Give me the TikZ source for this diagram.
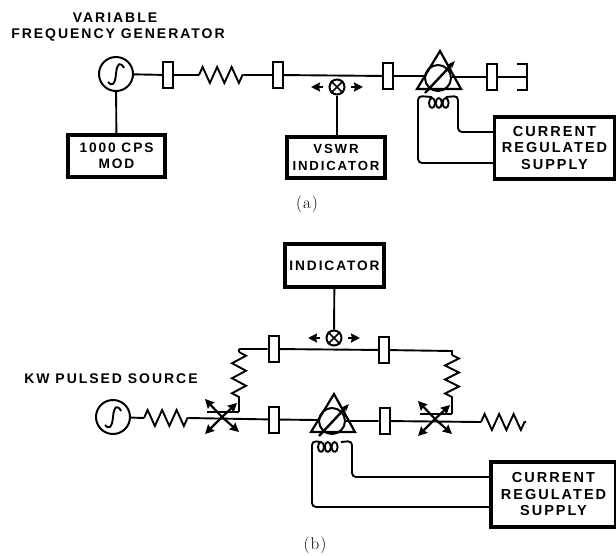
\documentclass[tikz,border=0pt]{standalone}
\usepackage{fontspec}
\usetikzlibrary{arrows.meta,decorations.pathmorphing,calc}
\newfontfamily\lab[LetterSpace=14]{Liberation Sans}
\tikzset{
 wire/.style={line width=1.9pt,line join=miter},
 box/.style={draw,line width=3.4pt,rectangle,inner sep=0pt,align=center,font=\lab\bfseries\fontsize{14.5}{16.5}\selectfont},
 smallbox/.style={box,font=\lab\bfseries\fontsize{13.7}{16.5}\selectfont},
 flange/.style={draw,line width=2pt,rectangle,inner sep=0pt,minimum width=10pt,minimum height=26pt,fill=white},
 gen/.style={draw,line width=2pt,circle,inner sep=0pt,minimum size=34pt,fill=white},
 det/.style={draw,line width=2pt,circle,inner sep=0pt,minimum size=15pt,fill=white},
 res/.style={wire,decorate,decoration={zigzag,segment length=14.5pt,amplitude=8pt}},
 tag/.style={inner sep=0pt,align=center,font=\lab\bfseries\fontsize{14}{17}\selectfont},
 captext/.style={inner sep=0pt,font=\fontsize{17}{17}\selectfont},
 tip/.style={line width=2.2pt,-{Stealth[length=9pt,width=9pt,inset=1pt]}}
}
\newcommand{\sinewave}[1]{\draw[wire] ([shift={(-8,8)}]#1.center) .. controls ([shift={(-5,12)}]#1.center) and ([shift={(-1,12)}]#1.center) .. (#1.center) .. controls ([shift={(1,-12)}]#1.center) and ([shift={(5,-12)}]#1.center) .. ([shift={(8,-6)}]#1.center);}
\newcommand{\crossin}[1]{\draw[line width=1.7pt] (#1.45)--(#1.225) (#1.135)--(#1.-45);}
% #1 name, #2 x, #3 y : isolator triangle with circle and slanted arrow
\newcommand{\isolator}[3]{%
 \coordinate (#1c) at (#2,#3);
 \coordinate (#1a) at ($(#1c)+(2,-27)$);
 \coordinate (#1l) at ($(#1c)+(-21,11)$);
 \coordinate (#1r) at ($(#1c)+(23,11)$);
 \coordinate (#1s) at ($(#1c)+(-13,15)$);
 \coordinate (#1e) at ($(#1c)+(17,-17)$);
 \draw[line width=2.2pt] (#1a)--(#1l)--(#1r)--cycle;
 \node[det,minimum size=26pt,fill=none] (#1o) at (#1c) {};
 \draw[line width=2.4pt,-{Stealth[length=8pt,width=6pt]}] (#1s)--(#1e);
}
% #1 x, #2 y : coil of three turns
\newcommand{\coil}[2]{%
 \foreach \i in {0,1,2}{\draw[line width=1.9pt] (#1+\i*6.8,#2) arc[start angle=270,delta angle=360,x radius=3pt,y radius=5pt];}
}
% #1 name, #2 x, #3 y: cross guide coupler
\newcommand{\coupler}[3]{%
 \coordinate (#1) at (#2,#3);
 \draw[tip] (#1)--++(-17,-18);
 \draw[tip] (#1)--++(-17,17);
 \draw[tip] (#1)--++(17,15);
 \draw[tip] (#1)--++(15,-14);
 \draw[wire] ($(#1)+(-15,-5)$)--++(32,0);
}
\begin{document}
\begin{tikzpicture}[x=1pt,y=-1pt]
\useasboundingbox (0,0) rectangle (616,555);
% ---------- (a)
\node[tag] (t1) at (115,18) {VARIABLE};
\node[tag] (t2) at (118,35) {FREQUENCY GENERATOR};
\node[gen] (ga) at (116,74) {};
\sinewave{ga}
\node[flange] (fa1) at (168,75) {};
\coordinate (ra1) at (199,75);
\coordinate (ra2) at (243.5,75);
\node[flange] (fa2) at (278,75) {};
\node[flange] (fa3) at (388,76) {};
\node[flange] (fa4) at (492,77) {};
\coordinate (sa) at (527,77);
\coordinate (ea1) at (424,76);
\coordinate (ea2) at (452,77);
\isolator{ia}{438}{78}
\draw[wire] (ga)--(fa1) (fa1)--(ra1) (ra2)--(fa2) (fa2)--(fa3) (fa3)--(ea1) (ea2)--(fa4) (fa4)--(sa);
\draw[res] (ra1)--(ra2);
\draw[wire] ($(sa)+(-10,-13)$)-|($(sa)+(0,13)$)--++(-10,0);
\node[smallbox,minimum width=97pt,minimum height=42pt] (ma) at (116.5,156) {1000 CPS\\MOD};
\draw[wire] (ga)--(ma);
\node[det] (da) at (337,87) {};
\crossin{da}
\draw[tip] (da)++(-14,0)--++(-12,0);
\draw[tip] (da)++(14,0)--++(12,0);
\node[smallbox,font=\lab\bfseries\fontsize{13.2}{16.5}\selectfont,minimum width=98pt,minimum height=41pt] (va) at (336,157.5) {VSWR\\INDICATOR};
\draw[wire] (da)--(va.north-|da);
\node[box,minimum width=120pt,minimum height=62pt] (sua) at (554.5,148) {CURRENT\\REGULATED\\SUPPLY};
\coil{432}{108}
\draw[wire,rounded corners=4pt] (432,97)--(418,96)--(418,163)--(sua.west|-418,163);
\draw[wire,rounded corners=4pt] (446,97)--(458,96)--(458,132)--(sua.west|-458,132);
\node[captext] (capa) at (307,204) {(\kern1pt a\kern1pt)};
% ---------- (b)
\node[smallbox,minimum width=99pt,minimum height=43pt] (ib) at (334.5,265.5) {INDICATOR};
\node[det] (db) at (334,338) {};
\crossin{db}
\draw[wire] (ib)--(db);
\draw[tip] (db)++(-14,0)--++(-12,0);
\draw[tip] (db)++(14,0)--++(12,0);
\node[flange] (fb1) at (273.5,349) {};
\node[flange] (fb2) at (384,350) {};
\coordinate (tl) at (239,349);
\coordinate (tr) at (452,351);
\coordinate (rl) at (239,398);
\coordinate (rr) at (452,398);
\draw[wire] (tl)--(fb1)--(fb2)--(tr)--++(0,4);
\draw[wire] (tl)--++(0,3);
\draw[res,decoration={segment length=15pt,amplitude=7pt}] (239,352)--(rl);
\draw[res,decoration={segment length=14pt,amplitude=7pt}] (452,355)--(rr);
\draw[wire] (rl)--(239,412);
\draw[wire] (rr)--(452,414);
\node[tag] (tb) at (111,379) {KW PULSED SOURCE};
\node[gen] (gb) at (113,417) {};
\sinewave{gb}
\coordinate (rb1) at (144,418);
\coordinate (rb2) at (188.5,418);
\draw[wire] (gb)--(rb1);
\draw[res] (rb1)--(rb2);
\coupler{cl}{222}{417}
\coupler{cr}{435}{419}
\node[flange] (fb3) at (274,419.5) {};
\node[flange] (fb4) at (384.5,421) {};
\coordinate (eb1) at (318,420);
\coordinate (eb2) at (346,421);
\isolator{ib2}{332}{421}
\coordinate (rb3) at (481,422);
\coordinate (rb4) at (526,422);
\draw[wire] (rb2)--(fb3) (fb3)--(eb1) (eb2)--(fb4) (fb4)--(rb3);
\draw[res] (rb3)--(rb4);
\node[box,minimum width=125pt,minimum height=65pt] (sub) at (553.5,494.5) {CURRENT\\REGULATED\\SUPPLY};
\coil{321}{452}
\draw[wire,rounded corners=4pt] (321,442)--(312,441)--(312,507)--(sub.west|-312,507);
\draw[wire,rounded corners=4pt] (341,442)--(352,441)--(352,477)--(sub.west|-352,477);
\node[captext] (capb) at (315,545) {(\kern1pt b\kern1pt)};
\end{tikzpicture}
\end{document}
